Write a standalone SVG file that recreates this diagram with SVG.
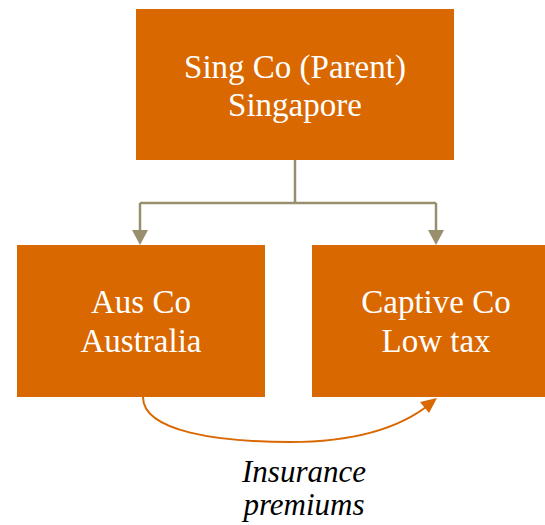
<svg xmlns="http://www.w3.org/2000/svg" width="545" height="525" viewBox="0 0 545 525">
  <style>
    .box { fill: #DA6800; }
    .lbl { font-family: 'Liberation Serif', 'Times New Roman', serif; font-size: 33px; fill: #FFFFFF; text-anchor: middle; }
    .conn { fill: none; stroke: #998F6F; stroke-width: 2.5; }
    .flow { fill: none; stroke: #DA6800; stroke-width: 2; }
    .note { font-family: 'Liberation Serif', 'Times New Roman', serif; font-style: italic; font-size: 31px; fill: #000000; text-anchor: middle; }
  </style>

  <g id="connectors">
    <path class="conn" d="M295,160 V203 M140,203 H436"/>
    <path d="M140,203 V231" class="conn"/>
    <path d="M436,203 V231" class="conn"/>
    <path d="M132,230 L148,230 L140,245 Z" fill="#998F6F"/>
    <path d="M428,230 L444,230 L436,245 Z" fill="#998F6F"/>
    <path class="flow" d="M143,397 C143,432 220,442 290,442 C355,442 400,428 430,404"/>
    <path d="M437,398 L420,402 L429,413 Z" fill="#DA6800"/>
  </g>

  <g id="sing-co">
    <rect class="box" x="136" y="9" width="318" height="151"/>
    <text class="lbl" x="295" y="78">Sing Co (Parent)</text>
    <text class="lbl" x="295" y="116">Singapore</text>
  </g>

  <g id="aus-co">
    <rect class="box" x="17" y="245" width="248" height="152"/>
    <text class="lbl" x="141" y="313">Aus Co</text>
    <text class="lbl" x="141" y="352">Australia</text>
  </g>

  <g id="captive-co">
    <rect class="box" x="312" y="245" width="248" height="152"/>
    <text class="lbl" x="436" y="313">Captive Co</text>
    <text class="lbl" x="436" y="352">Low tax</text>
  </g>

  <g id="flow-label">
    <text class="note" x="304" y="482">Insurance</text>
    <text class="note" x="304" y="515">premiums</text>
  </g>
</svg>
